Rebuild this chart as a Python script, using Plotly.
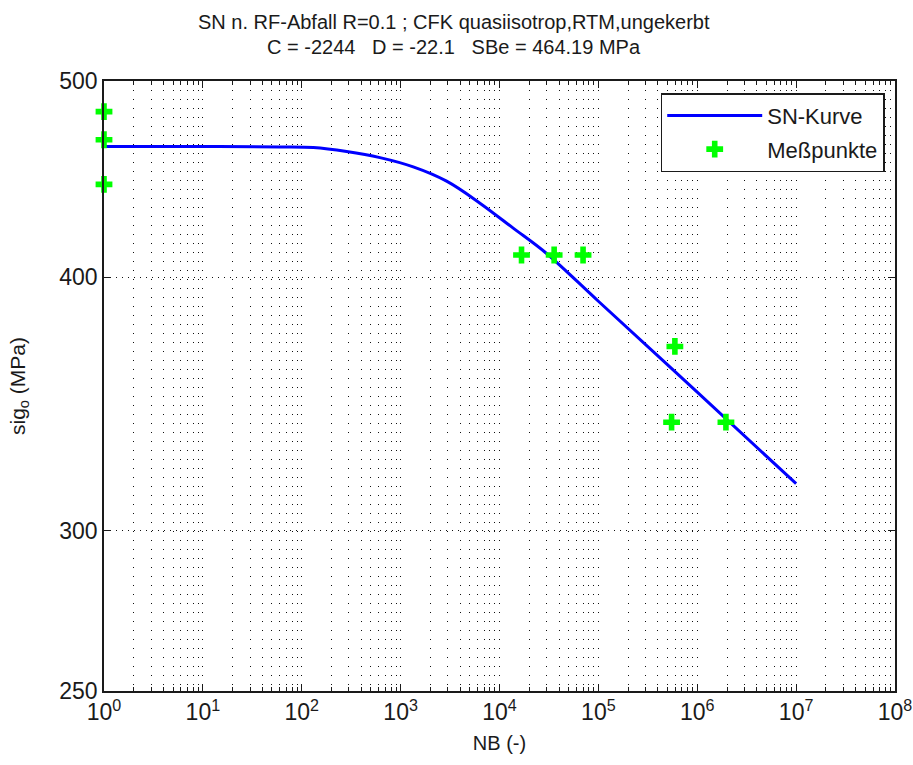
import plotly.graph_objects as go
import numpy as np

# SN curve
curve_N = [1, 10, 60, 131, 284, 618, 1341, 2917, 6340, 13760, 29940, 1.0e5, 1.0e6, 1.0e7]
curve_sig = [464.2, 464.1, 463.9, 463.6, 461.5, 458.3, 453.5, 446.2, 435.2, 423.0, 411.0, 389.3, 351.1, 316.4]

# measured points
meas_N = [1, 1, 1, 1.67e4, 3.57e4, 7.0e4, 5.94e5, 5.5e5, 1.95e6]
meas_sig = [482.9, 467.7, 444.6, 410.3, 410.3, 410.3, 369.8, 339.3, 339.3]

x_tickvals = [1, 10, 100, 1e3, 1e4, 1e5, 1e6, 1e7, 1e8]
x_ticktext = ["10<sup>%d</sup>" % i for i in range(9)]
y_tickvals = [250, 300, 400, 500]
y_ticktext = ["250", "300", "400", "500"]

title_lines = ["SN n. RF-Abfall R=0.1 ; CFK quasiisotrop,RTM,ungekerbt",
               "C = -2244&nbsp;&nbsp;&nbsp;D = -22.1&nbsp;&nbsp;&nbsp;SBe = 464.19 MPa"]

FONT = "Liberation Sans, Arial, sans-serif"
TXT = "#1a1a1a"
dotdash = "1px,8px"

fig = go.Figure()
fig.add_trace(go.Scatter(x=curve_N, y=curve_sig, mode="lines", name="SN-Kurve",
                         legendgroup="a",
                         line=dict(color="#0000ff", width=3, shape="spline", smoothing=1.0)))
fig.add_trace(go.Scatter(x=meas_N, y=meas_sig, mode="markers", name="Meßpunkte",
                         legendgroup="b",
                         marker=dict(symbol="cross", size=14, color="#00ff00",
                                     line=dict(width=0)), cliponaxis=False))

fig.update_layout(
    width=913, height=765,
    margin=dict(l=104, r=18, t=81, b=74, autoexpand=False),
    paper_bgcolor="white", plot_bgcolor="white",
    font=dict(family=FONT, size=20, color=TXT),
    showlegend=True,
    legend=dict(x=0.987, xanchor="right", y=0.98, yanchor="top",
                bgcolor="white", bordercolor=TXT, borderwidth=1.5,
                font=dict(family=FONT, size=22, color=TXT),
                itemwidth=95, tracegroupgap=2),
    annotations=[
        dict(text=title_lines[0], xref="paper", yref="paper", x=0.4425, y=1 + (81 - 22) / 610,
             xanchor="center", yanchor="middle", showarrow=False,
             font=dict(family=FONT, size=20, color=TXT)),
        dict(text=title_lines[1], xref="paper", yref="paper", x=0.4425, y=1 + (81 - 47) / 610,
             xanchor="center", yanchor="middle", showarrow=False,
             font=dict(family=FONT, size=20, color=TXT)),
    ],
)

fig.update_xaxes(type="log", range=[0, 8], tickvals=x_tickvals, ticktext=x_ticktext,
                 automargin=False,
                 showline=True, linecolor=TXT, linewidth=1.5, mirror="ticks",
                 ticks="inside", ticklen=7, tickcolor=TXT,
                 showgrid=True, gridcolor="#111", gridwidth=1, griddash=dotdash,
                 zeroline=False,
                 tickfont=dict(family=FONT, size=23, color=TXT),
                 title=dict(text="NB (-)", font=dict(family=FONT, size=20, color=TXT), standoff=12),
                 minor=dict(ticks="inside", ticklen=4, tickcolor=TXT, dtick="D1",
                            showgrid=True, gridcolor="#111", gridwidth=1, griddash=dotdash))
fig.update_yaxes(type="log", range=[np.log10(250), np.log10(500)],
                 tickvals=y_tickvals, ticktext=y_ticktext,
                 automargin=False,
                 showline=True, linecolor=TXT, linewidth=1.5, mirror="ticks",
                 ticks="inside", ticklen=7, tickcolor=TXT,
                 showgrid=True, gridcolor="#111", gridwidth=1, griddash="1px,5px",
                 zeroline=False,
                 tickfont=dict(family=FONT, size=23, color=TXT),
                 title=dict(text="sig<sub>o</sub> (MPa)", font=dict(family=FONT, size=21, color=TXT), standoff=28))

fig.write_html("out.html")
